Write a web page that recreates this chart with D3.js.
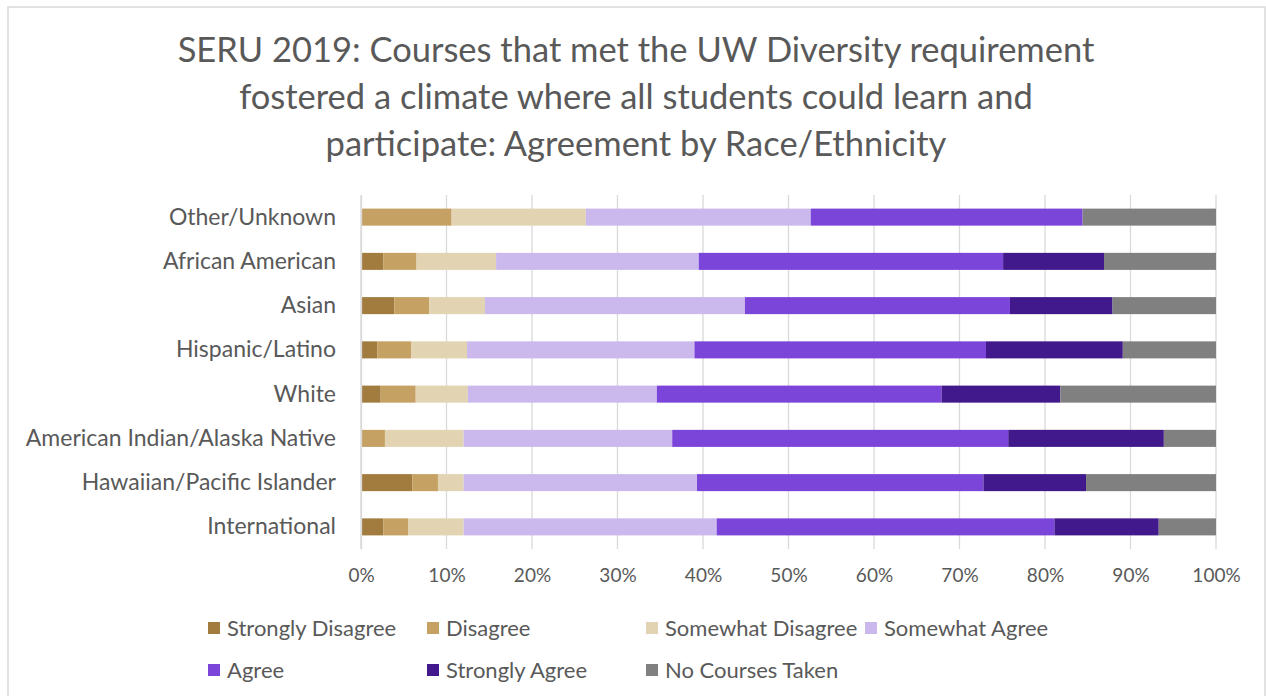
<!DOCTYPE html>
<html>
<head>
<meta charset="utf-8">
<script src="https://cdn.jsdelivr.net/npm/d3@7"></script>
<style>
  body { margin: 0; background: #fff; }
  svg { display: block; }
</style>
</head>
<body>
<svg id="chart" width="1266" height="696"></svg>
<script>
// categories top to bottom
var categories = ["Other/Unknown", "African American", "Asian", "Hispanic/Latino", "White",
  "American Indian/Alaska Native", "Hawaiian/Pacific Islander", "International"];
var seriesNames = ["Strongly Disagree", "Disagree", "Somewhat Disagree", "Somewhat Agree",
  "Agree", "Strongly Agree", "No Courses Taken"];
// percent values per series, in the order of categories
var stronglyDisagree = [0.0, 2.6, 3.9, 1.9, 2.3, 0.0, 6.0, 2.6];
var disagree         = [10.6, 3.9, 4.1, 4.0, 4.1, 2.8, 3.0, 2.9];
var somewhatDisagree = [15.7, 9.3, 6.5, 6.5, 6.1, 9.2, 3.0, 6.5];
var somewhatAgree    = [26.3, 23.7, 30.4, 26.6, 22.1, 24.4, 27.3, 29.6];
var agree            = [31.8, 35.6, 31.0, 34.1, 33.3, 39.3, 33.5, 39.5];
var stronglyAgree    = [0.0, 11.8, 12.0, 16.0, 13.9, 18.2, 12.0, 12.2];
var noCourses        = [15.6, 13.1, 12.1, 10.9, 18.2, 6.1, 15.2, 6.7];
var tickValues = [0, 10, 20, 30, 40, 50, 60, 70, 80, 90, 100];
var titleLines = ["SERU 2019: Courses that met the UW Diversity requirement",
  "fostered a climate where all students could learn and",
  "participate: Agreement by Race/Ethnicity"];

var colors = ["#a27c3e", "#c5a163", "#e2d4b3", "#cbb9ee", "#7c45da", "#42198c", "#808080"];
var font = "Lato, 'Open Sans', sans-serif";
var textColor = "#595959";

var allSeries = [stronglyDisagree, disagree, somewhatDisagree, somewhatAgree, agree, stronglyAgree, noCourses];
var table = categories.map(function (c, i) {
  var row = { category: c };
  seriesNames.forEach(function (s, j) { row[s] = allSeries[j][i]; });
  return row;
});
var stacked = d3.stack().keys(seriesNames)(table);

var svg = d3.select("#chart");

// outer frame
svg.append("rect")
  .attr("x", 8).attr("y", 7).attr("width", 1257).attr("height", 700)
  .attr("fill", "none").attr("stroke", "#d9d9d9").attr("stroke-width", 1.5);

// title
svg.append("g").selectAll("text")
  .data(titleLines)
  .enter().append("text")
  .attr("x", 636)
  .attr("y", function (d, i) { return 62 + i * 47; })
  .attr("text-anchor", "middle")
  .attr("font-family", font)
  .attr("font-size", "34.5px")
  .attr("fill", textColor)
  .text(function (d) { return d; });

var x = d3.scaleLinear().domain([0, 100]).range([361, 1216]);
var y = d3.scaleBand().domain(categories).range([195, 549])
  .paddingInner(0.615).paddingOuter(0.3075);

// gridlines
svg.append("g").selectAll("line")
  .data(tickValues)
  .enter().append("line")
  .attr("x1", function (d) { return x(d); })
  .attr("x2", function (d) { return x(d); })
  .attr("y1", 195).attr("y2", 549)
  .attr("stroke", "#d9d9d9").attr("stroke-width", 1.3);

// bars
svg.append("g").selectAll("g")
  .data(stacked)
  .enter().append("g")
  .attr("fill", function (d, i) { return colors[i]; })
  .selectAll("rect")
  .data(function (d) { return d; })
  .enter().append("rect")
  .attr("x", function (d) { return x(d[0]); })
  .attr("width", function (d) { return x(d[1]) - x(d[0]); })
  .attr("y", function (d) { return y(d.data.category); })
  .attr("height", y.bandwidth());

// y axis
var yAxis = svg.append("g")
  .attr("transform", "translate(361,0)")
  .call(d3.axisLeft(y).tickSize(0).tickPadding(25));
yAxis.select(".domain").attr("stroke", "#d9d9d9").attr("stroke-width", 1.3);
yAxis.selectAll("text")
  .attr("font-family", font).attr("font-size", "23px").attr("fill", textColor);

// x axis
var xAxis = svg.append("g")
  .attr("transform", "translate(0,549)")
  .call(d3.axisBottom(x).tickValues(tickValues).tickSize(0).tickPadding(20)
    .tickFormat(function (d) { return d + "%"; }));
xAxis.select(".domain").remove();
xAxis.selectAll("text")
  .attr("font-family", font).attr("font-size", "19px").attr("fill", textColor);

// legend
var legendPos = [[227, 628], [446, 628], [665, 628], [884, 628], [227, 670], [446, 670], [665, 670]];
var legend = svg.append("g").selectAll("g")
  .data(seriesNames)
  .enter().append("g")
  .attr("transform", function (d, i) { return "translate(" + legendPos[i][0] + "," + legendPos[i][1] + ")"; });
legend.append("rect")
  .attr("x", -19).attr("y", -6).attr("width", 12).attr("height", 12)
  .attr("fill", function (d, i) { return colors[i]; });
legend.append("text")
  .attr("x", 0).attr("y", 0).attr("dy", "0.35em")
  .attr("font-family", font).attr("font-size", "22px").attr("fill", textColor)
  .text(function (d) { return d; });
</script>
</body>
</html>
